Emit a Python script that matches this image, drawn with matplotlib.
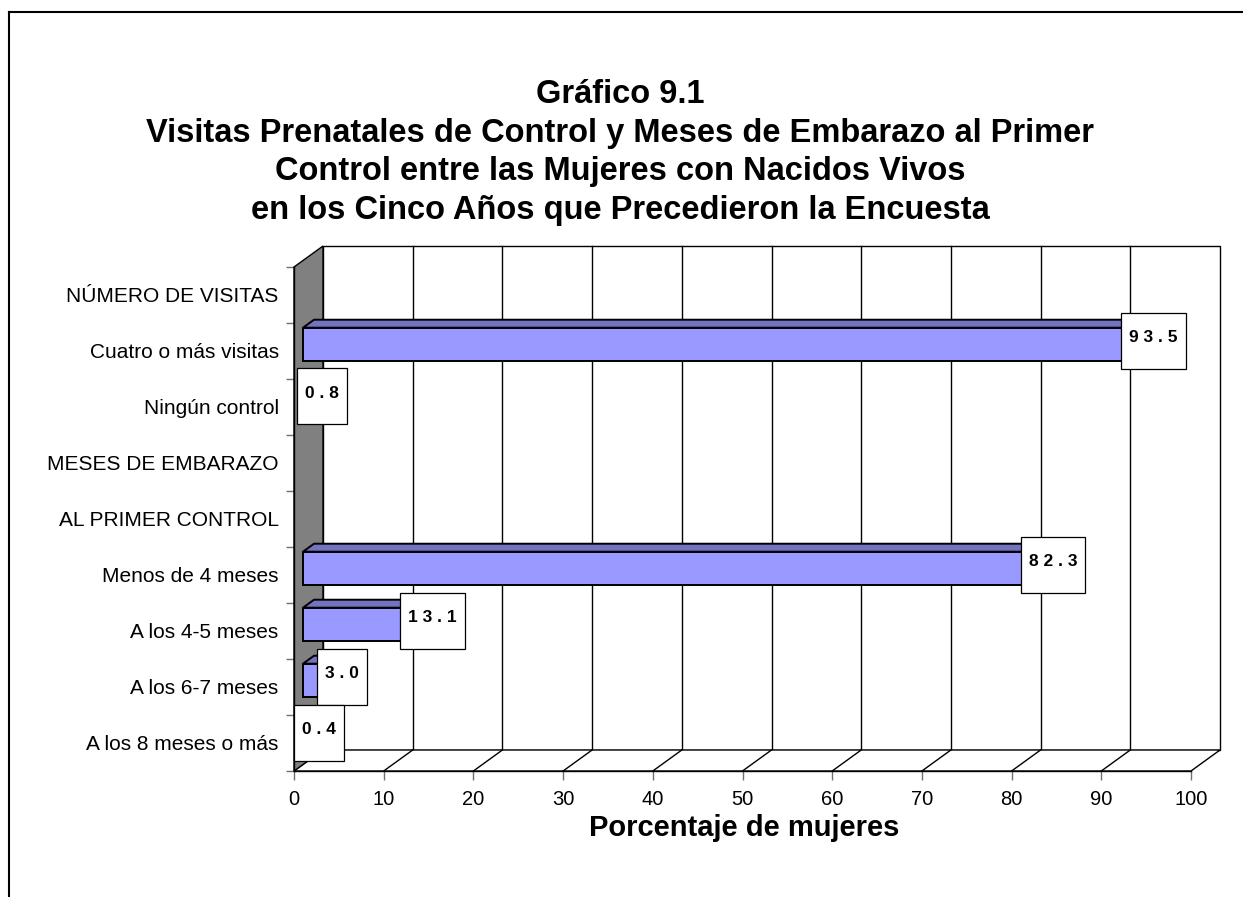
import numpy as np
import matplotlib.pyplot as plt
from matplotlib.patches import Polygon, Rectangle
from matplotlib.lines import Line2D

plt.rcParams['font.family'] = ['Liberation Sans', 'DejaVu Sans']

# data
categories = ["NÚMERO DE VISITAS", "Cuatro o más visitas", "Ningún control",
              "MESES DE EMBARAZO", "AL PRIMER CONTROL", "Menos de 4 meses",
              "A los 4-5 meses", "A los 6-7 meses", "A los 8 meses o más"]
values = [np.nan, 93.5, 0.8, np.nan, np.nan, 82.3, 13.1, 3.0, 0.4]
x_ticks = list(range(0, 101, 10))
title_lines = ["Gráfico 9.1",
               "Visitas Prenatales de Control y Meses de Embarazo al Primer",
               "Control entre las Mujeres con Nacidos Vivos",
               "en los Cinco Años que Precedieron la Encuesta"]
xlabel = "Porcentaje de mujeres"

W, H = 1243, 897
fig = plt.figure(figsize=(W / 100, H / 100), dpi=100)
ax = fig.add_axes([294 / W, 1 - 771 / H, 897 / W, 504 / H])
ax.set_xlim(0, 100)
ax.set_ylim(8.5, -0.5)
ax.set_facecolor('none')

# fake 3d depth (in data units)
DX = 29 / 897 * 100
DY = 21 / 56


def proj(v, c, d):
    return (v + d * DX, c - d * DY)


def poly(pts, fc, z, lw=1.0):
    ax.add_patch(Polygon(pts, closed=True, fc=fc, ec='black', lw=lw,
                         clip_on=False, zorder=z))


n = len(categories)
top, bot = -0.5, n - 0.5

# walls and floor
poly([proj(0, top, 1), proj(100, top, 1), proj(100, bot, 1), proj(0, bot, 1)], 'white', 1)
for t in x_ticks[1:-1]:
    p0, p1 = proj(t, top, 1), proj(t, bot, 1)
    ax.plot([p0[0], p1[0]], [p0[1], p1[1]], color='black', lw=1, clip_on=False, zorder=2)
poly([proj(0, bot, 0), proj(100, bot, 0), proj(100, bot, 1), proj(0, bot, 1)], 'white', 2)
for t in x_ticks[1:-1]:
    p0, p1 = proj(t, bot, 0), proj(t, bot, 1)
    ax.plot([p0[0], p1[0]], [p0[1], p1[1]], color='black', lw=1, clip_on=False, zorder=3)
poly([proj(0, top, 0), proj(0, top, 1), proj(0, bot, 1), proj(0, bot, 0)], '#808080', 3)

# bars
h = 0.3
d0, d1 = 0.31, 0.69
for i, v in enumerate(values):
    if np.isnan(v):
        continue
    poly([proj(0, i - h, d0), proj(v, i - h, d0), proj(v, i - h, d1), proj(0, i - h, d1)], '#7373BF', 4, 1.4)
    poly([proj(v, i - h, d0), proj(v, i + h, d0), proj(v, i + h, d1), proj(v, i - h, d1)], '#5F5FA8', 4, 1.4)
    poly([proj(0, i - h, d0), proj(v, i - h, d0), proj(v, i + h, d0), proj(0, i + h, d0)], '#9999FF', 5, 1.4)

# axes, ticks
for s in ['top', 'right']:
    ax.spines[s].set_visible(False)
for s in ['left', 'bottom']:
    ax.spines[s].set_linewidth(1)
    ax.spines[s].set_zorder(6)
ax.set_xticks(x_ticks)
ax.tick_params(axis='x', length=6.5, width=1, color='#707070', labelsize=14.5, pad=7)
ax.set_yticks(np.arange(top, bot + 0.1, 1))
ax.set_yticklabels([])
ax.set_yticks(range(n), minor=True)
ax.set_yticklabels(categories, minor=True)
ax.tick_params(axis='y', which='major', length=6, width=1, color='#707070')
ax.tick_params(axis='y', which='minor', length=0, pad=11, labelsize=15)

# data labels in boxes
renderer = fig.canvas.get_renderer()
to_fig = fig.transFigure.inverted()
for i, v in enumerate(values):
    if np.isnan(v):
        continue
    cx, cy = ax.transData.transform(proj(v, i, 0.5))
    cx += 6.5
    txt = ' '.join(f"{v:.1f}")
    t = fig.text(0, 0, txt, fontsize=12.5, fontweight='bold', ha='center', va='baseline', zorder=8)
    w = t.get_window_extent(renderer).width + 16
    t.set_position(to_fig.transform((cx, cy - 1)))
    (x0, y0) = to_fig.transform((cx - w / 2, cy - 28))
    (x1, y1) = to_fig.transform((cx + w / 2, cy + 28))
    fig.add_artist(Rectangle((x0, y0), x1 - x0, y1 - y0, transform=fig.transFigure,
                             fc='white', ec='black', lw=0.9, zorder=7))

# titles
for k, line in enumerate(title_lines):
    fig.text(620 / W, 1 - (103 + 38.7 * k) / H, line, fontsize=23.5, fontweight='bold',
             ha='center', va='baseline')
fig.text(744 / W, 1 - 836 / H, xlabel, fontsize=21, fontweight='bold',
         ha='center', va='baseline')

# outer frame (cut off at right and bottom)
fig.add_artist(Line2D([9 / W, 1], [1 - 12 / H, 1 - 12 / H], transform=fig.transFigure,
                      color='black', lw=1.5))
fig.add_artist(Line2D([9 / W, 9 / W], [0, 1 - 12 / H], transform=fig.transFigure,
                      color='black', lw=1.5))

fig.savefig('out.png', dpi=100)
